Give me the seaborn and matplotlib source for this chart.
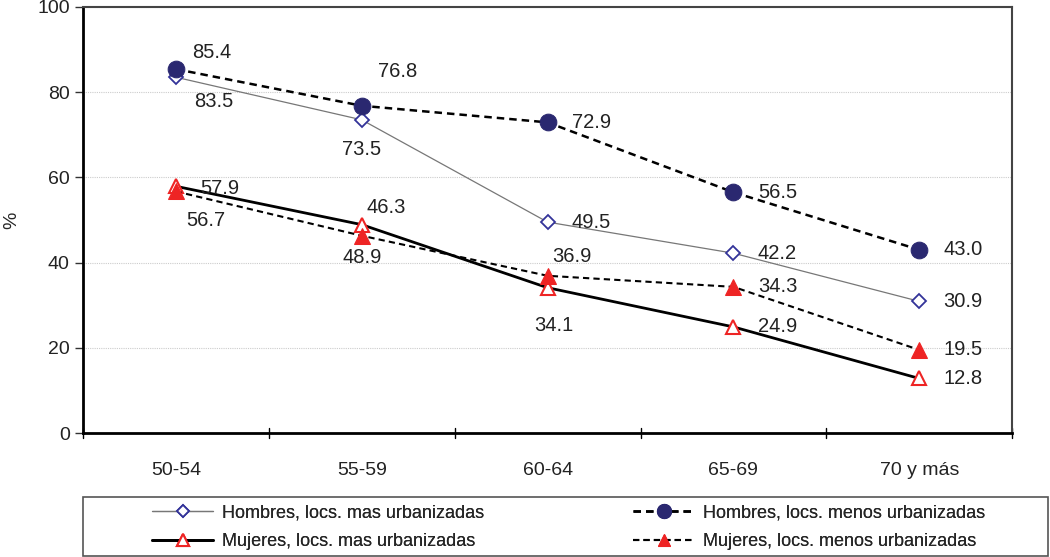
import matplotlib
matplotlib.use("Agg")
import matplotlib.pyplot as plt
from matplotlib.patches import Rectangle
import seaborn as sns
import pandas as pd

grupos = ["50-54", "55-59", "60-64", "65-69", "70 y más"]
h_mas = [83.5, 73.5, 49.5, 42.2, 30.9]
h_menos = [85.4, 76.8, 72.9, 56.5, 43.0]
m_mas = [57.9, 48.9, 34.1, 24.9, 12.8]
m_menos = [56.7, 46.3, 36.9, 34.3, 19.5]
nombres = ["Hombres, locs. mas urbanizadas", "Hombres, locs. menos urbanizadas",
           "Mujeres, locs. mas urbanizadas", "Mujeres, locs. menos urbanizadas"]

sns.set_style("white")
plt.rcParams['font.family'] = ['Liberation Sans', 'DejaVu Sans']

fig = plt.figure(figsize=(10.5, 5.57), dpi=100)
ax = fig.add_axes([0.079, 0.2226, 0.885, 0.765])

navy = "#2a2870"
red = "#ee2424"
estilos = [
    dict(color="#777777", lw=0.9, ls="-", marker="D", ms=7, mfc="white", mec="#333399", mew=1.3),
    dict(color="black", lw=1.8, ls=(0, (3, 2)), marker="o", ms=12, mfc=navy, mec=navy),
    dict(color="black", lw=2.0, ls="-", marker="^", ms=10, mfc="white", mec=red, mew=1.5),
    dict(color="black", lw=1.5, ls=(0, (3, 2)), marker="^", ms=11, mfc=red, mec=red),
]
series = [h_mas, h_menos, m_mas, m_menos]
df = pd.DataFrame({"grupo": grupos * 4,
                   "valor": h_mas + h_menos + m_mas + m_menos,
                   "serie": sum([[n] * 5 for n in nombres], [])})
handles = []
for nombre, est in zip(nombres, estilos):
    sub = df[df["serie"] == nombre]
    sns.lineplot(data=sub, x="grupo", y="valor", ax=ax, sort=False, **est)
    handles.append(ax.lines[-1])

# posiciones de etiquetas (offset en pixeles)
offs = {
    0: [(38, -24), (0, -30), (44, 0), (44, 0), (44, 0)],
    1: [(36, 17), (36, 34), (44, 0), (44, 0), (44, 0)],
    2: [(44, -2), (0, -33), (6, -38), (44, 0), (44, 0)],
    3: [(30, -29), (24, 28), (24, 19), (44, 0), (44, 0)],
}
for k, vals in enumerate(series):
    for i, v in enumerate(vals):
        dx, dy = offs[k][i]
        ax.annotate(f"{v:.1f}", (i, v), xytext=(dx, dy), textcoords="offset pixels",
                    ha="center", va="center", fontsize=14.5, color="#222222")

ax.set_ylim(0, 100)
ax.set_xlim(-0.5, 4.5)
ax.set_yticks(range(0, 101, 20))
ax.set_xticks(range(5))
ax.set_xticklabels(grupos)
ax.set_xlabel("")
ax.set_ylabel("%", fontsize=14, labelpad=12)
ax.tick_params(axis="both", labelsize=14, colors="#222222")
ax.tick_params(axis="x", length=0, pad=21)
ax.tick_params(axis="y", direction="out", length=6, width=1, left=True, color="#333333")
for b in [-0.5, 0.5, 1.5, 2.5, 3.5, 4.5]:
    ax.plot([b, b], [1.2, -1.2], color="black", lw=1, clip_on=False)
ax.yaxis.grid(True, color="#cccccc", lw=0.8, ls=(0, (1, 1)))
ax.set_axisbelow(True)
for s in ["left", "bottom"]:
    ax.spines[s].set_color("black")
    ax.spines[s].set_linewidth(2)
for s in ["top", "right"]:
    ax.spines[s].set_color("#444444")
    ax.spines[s].set_linewidth(1.5)

# marco de la leyenda
fig.patches.append(Rectangle((83 / 1050, 1 / 557), 965 / 1050, 59 / 557,
                             transform=fig.transFigure, fill=False,
                             edgecolor="#555555", lw=1.2))
col1 = [handles[0], handles[2]]
col2 = [handles[1], handles[3]]
for hs, labs, x0 in [(col1, [nombres[0], nombres[2]], 152),
                     (col2, [nombres[1], nombres[3]], 633)]:
    lg = fig.legend(hs, labs, loc="upper left", bbox_to_anchor=(x0 / 1050, 0.094),
                    fontsize=13, frameon=False, handlelength=3.4, handletextpad=0.5,
                    borderaxespad=0, borderpad=0, labelspacing=0.62, markerscale=0.85)
    fig.add_artist(lg)

fig.savefig("out.png", dpi=100)
